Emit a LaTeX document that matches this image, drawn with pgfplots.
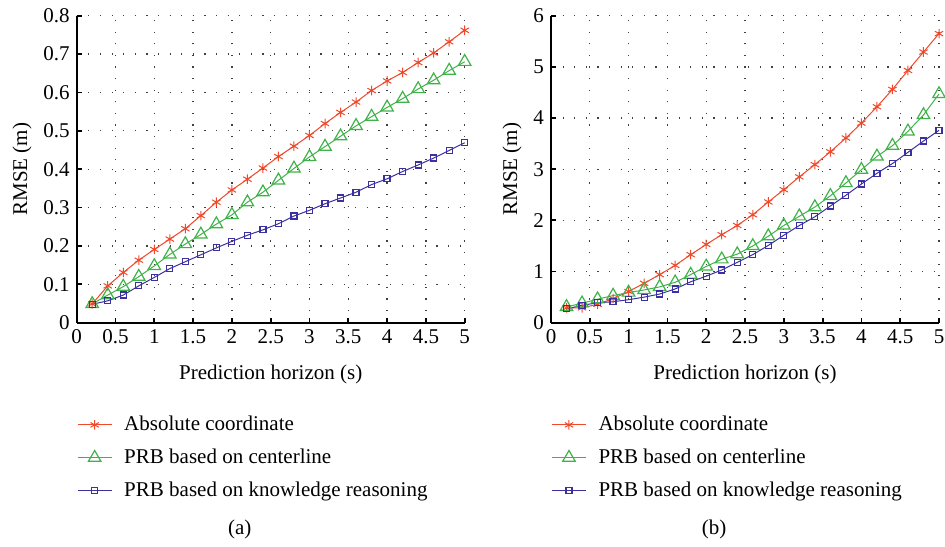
\documentclass[border=0pt]{standalone}
\usepackage{fontspec}
\setmainfont{Liberation Serif}
\usepackage{pgfplots}
\pgfplotsset{compat=1.18}
\definecolor{cred}{RGB}{240,72,42}
\definecolor{cgreen}{RGB}{64,178,74}
\definecolor{cblue}{RGB}{58,48,160}
\pgfplotsset{
 myaxis/.style={
  scale only axis, width=194pt, height=153.5pt,
  xmin=0, xmax=5, xtick={0,0.5,...,5}, ymin=0,
  axis x line*=bottom, axis y line*=left,
  axis line style={-, line width=0.9pt},
  tick align=inside, major tick length=2.6pt,
  tick style={line width=0.9pt, black},
  grid=major, grid style={black!75, line width=0.65pt, dash pattern=on 0.6pt off 5.2pt},
  font=\fontsize{10.5}{12.5}\selectfont,
  /pgf/number format/assume math mode=true,
  xlabel={Prediction horizon (s)}, ylabel={RMSE (m)},
  xlabel style={yshift=-3.5pt},
  ylabel style={yshift=-1pt},
  legend style={draw=none, fill=none, at={(0,0)}, anchor=north west, yshift=-44.5pt,
    inner sep=0pt, row sep=3.6pt, font=\fontsize{10.5}{12.5}\selectfont,
    /tikz/every odd column/.append style={column sep=4pt}},
  legend cell align=left,
  clip=false,
 },
 sred/.style={cred, line width=0.5pt, mark=asterisk, mark size=2.4pt},
 sgreen/.style={cgreen, line width=0.5pt, mark=triangle, mark size=3.6pt, mark options={line width=0.6pt}},
 sblue/.style={cblue, line width=0.5pt, mark=square, mark size=1.5pt, mark options={line width=0.6pt}},
}
\begin{document}
\begin{tikzpicture}
\path[use as bounding box] (-38.35pt,-111.65pt) rectangle (434.15pt,161.35pt);
\begin{axis}[myaxis, at={(0pt,0pt)}, anchor=south west, ymax=0.8,
  ytick={0,0.1,...,0.8}, yticklabel style={/pgf/number format/fixed}]
\addplot[sred] coordinates {(0.2,0.049)(0.4,0.096)(0.6,0.131)(0.8,0.163)(1.0,0.191)(1.2,0.218)(1.4,0.245)(1.6,0.279)(1.8,0.314)(2.0,0.346)(2.2,0.374)(2.4,0.403)(2.6,0.433)(2.8,0.460)(3.0,0.488)(3.2,0.519)(3.4,0.548)(3.6,0.575)(3.8,0.605)(4.0,0.630)(4.2,0.652)(4.4,0.678)(4.6,0.703)(4.8,0.732)(5.0,0.762)};
\addlegendentry{Absolute coordinate}
\addplot[sgreen] coordinates {(0.2,0.049)(0.4,0.072)(0.6,0.094)(0.8,0.120)(1.0,0.148)(1.2,0.178)(1.4,0.205)(1.6,0.230)(1.8,0.257)(2.0,0.281)(2.2,0.314)(2.4,0.340)(2.6,0.371)(2.8,0.402)(3.0,0.432)(3.2,0.459)(3.4,0.486)(3.6,0.513)(3.8,0.537)(4.0,0.561)(4.2,0.584)(4.4,0.609)(4.6,0.632)(4.8,0.657)(5.0,0.680)};
\addlegendentry{PRB based on centerline}
\addplot[sblue] coordinates {(0.2,0.048)(0.4,0.057)(0.6,0.072)(0.8,0.096)(1.0,0.118)(1.2,0.141)(1.4,0.159)(1.6,0.177)(1.8,0.195)(2.0,0.212)(2.2,0.228)(2.4,0.242)(2.6,0.258)(2.8,0.278)(3.0,0.293)(3.2,0.310)(3.4,0.325)(3.6,0.340)(3.8,0.360)(4.0,0.375)(4.2,0.394)(4.4,0.411)(4.6,0.429)(4.8,0.449)(5.0,0.469)};
\addlegendentry{PRB based on knowledge reasoning}
\node[font=\fontsize{10.5}{12.5}\selectfont] at (rel axis cs:0.5,0) [xshift=-15.5pt, yshift=-103.5pt] {(a)};
\end{axis}
\begin{axis}[myaxis, at={(237.15pt,0pt)}, anchor=south west, ymax=6,
  ytick={0,1,...,6}]
\addplot[sred] coordinates {(0.2,0.29)(0.4,0.29)(0.6,0.36)(0.8,0.47)(1.0,0.61)(1.2,0.77)(1.4,0.94)(1.6,1.12)(1.8,1.33)(2.0,1.53)(2.2,1.72)(2.4,1.90)(2.6,2.11)(2.8,2.36)(3.0,2.60)(3.2,2.85)(3.4,3.09)(3.6,3.34)(3.8,3.61)(4.0,3.90)(4.2,4.22)(4.4,4.56)(4.6,4.93)(4.8,5.29)(5.0,5.65)};
\addlegendentry{Absolute coordinate}
\addplot[sgreen] coordinates {(0.2,0.31)(0.4,0.38)(0.6,0.46)(0.8,0.53)(1.0,0.59)(1.2,0.64)(1.4,0.70)(1.6,0.79)(1.8,0.94)(2.0,1.10)(2.2,1.24)(2.4,1.34)(2.6,1.50)(2.8,1.69)(3.0,1.90)(3.2,2.08)(3.4,2.26)(3.6,2.48)(3.8,2.73)(4.0,2.99)(4.2,3.25)(4.4,3.46)(4.6,3.74)(4.8,4.06)(5.0,4.47)};
\addlegendentry{PRB based on centerline}
\addplot[sblue] coordinates {(0.2,0.27)(0.4,0.34)(0.6,0.39)(0.8,0.41)(1.0,0.45)(1.2,0.50)(1.4,0.56)(1.6,0.66)(1.8,0.80)(2.0,0.91)(2.2,1.03)(2.4,1.18)(2.6,1.33)(2.8,1.51)(3.0,1.71)(3.2,1.90)(3.4,2.07)(3.6,2.28)(3.8,2.49)(4.0,2.71)(4.2,2.92)(4.4,3.11)(4.6,3.33)(4.8,3.55)(5.0,3.76)};
\addlegendentry{PRB based on knowledge reasoning}
\node[font=\fontsize{10.5}{12.5}\selectfont] at (rel axis cs:0.5,0) [xshift=-15.5pt, yshift=-103.5pt] {(b)};
\end{axis}
\end{tikzpicture}
\end{document}
